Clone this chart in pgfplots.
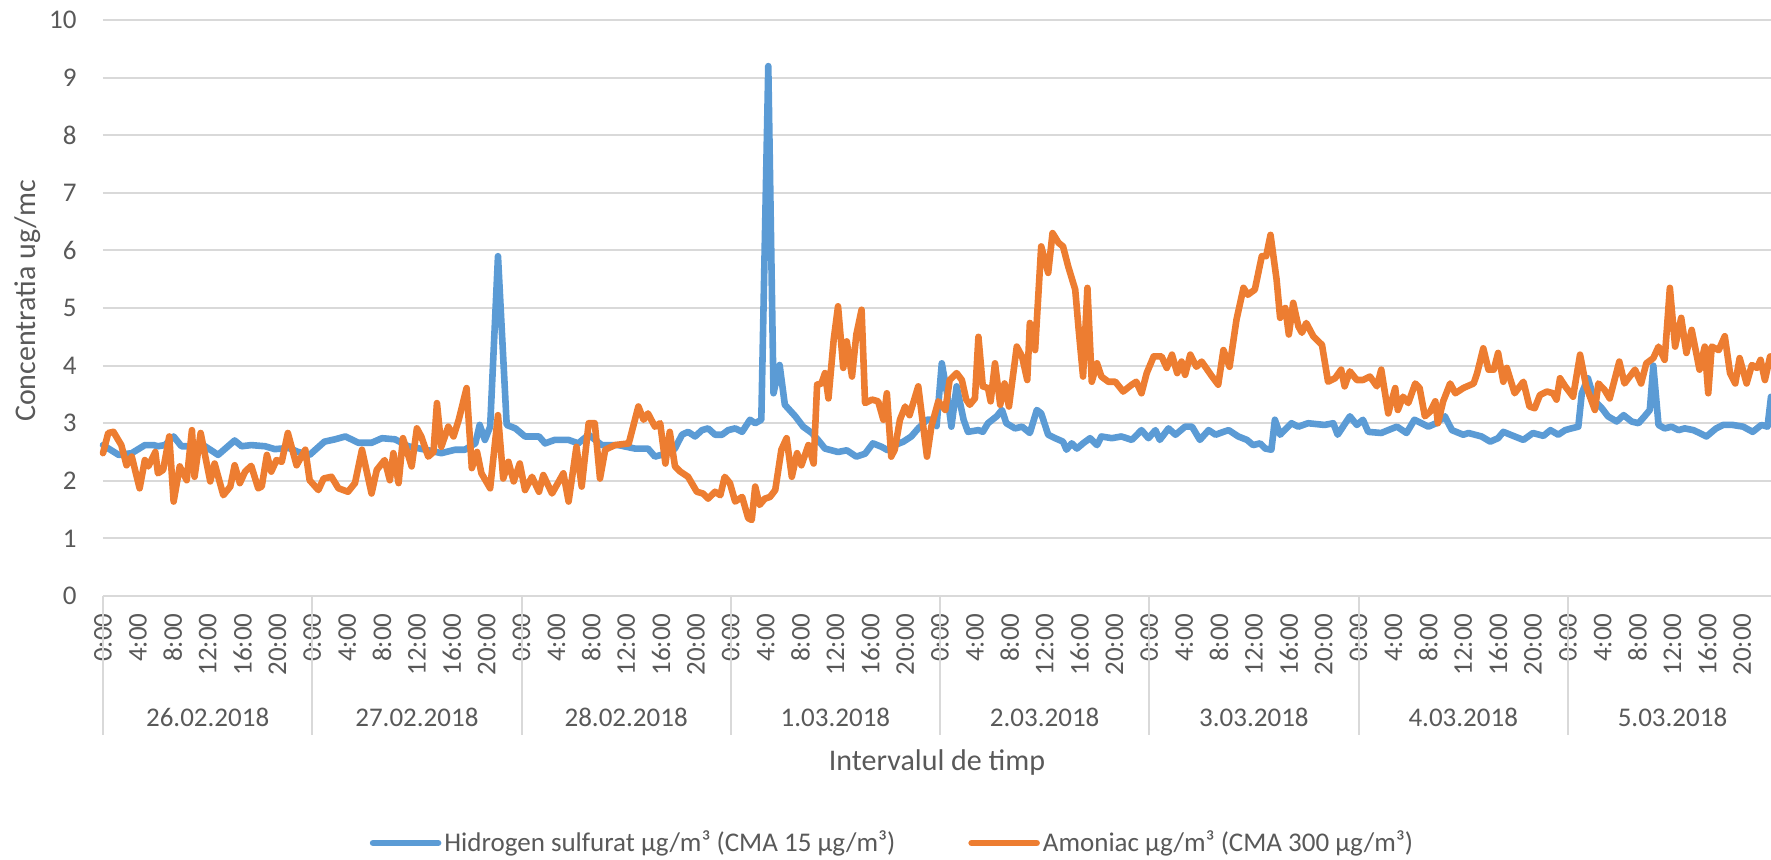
\documentclass[border=0pt]{standalone}
\usepackage{fontspec}
\setmainfont{Carlito}
\usepackage{pgfplots}
\pgfplotsset{compat=1.18}
\definecolor{h2s}{HTML}{5B9BD5}
\definecolor{nh3}{HTML}{ED7D31}
\definecolor{gridgray}{HTML}{D9D9D9}
\definecolor{txt}{HTML}{595959}
\begin{document}
\begin{tikzpicture}
\begin{axis}[
  at={(0,0)}, anchor=south west,
  scale only axis, width=834pt, height=288pt,
  xmin=0, xmax=191.3, ymin=0, ymax=10,
  clip=false,
  axis line style={draw=none},
  ytick={0,1,...,10},
  ymajorgrids, grid style={gridgray, line width=1pt},
  xtick={0,4,...,188},
  xticklabels={0:00,4:00,8:00,12:00,16:00,20:00,0:00,4:00,8:00,12:00,16:00,20:00,0:00,4:00,8:00,12:00,16:00,20:00,0:00,4:00,8:00,12:00,16:00,20:00,0:00,4:00,8:00,12:00,16:00,20:00,0:00,4:00,8:00,12:00,16:00,20:00,0:00,4:00,8:00,12:00,16:00,20:00,0:00,4:00,8:00,12:00,16:00,20:00},
  tick style={draw=none},
  major tick length=0pt,
  tick label style={font=\fontsize{13.5}{16}\selectfont, text=txt},
  /pgf/number format/assume math mode=true,
  yticklabel style={anchor=east, inner sep=0pt, xshift=-13pt},
  xticklabel style={yshift=-8.5pt, rotate=90, anchor=east, inner sep=0pt},
  xlabel={Intervalul de timp}, ylabel={Concentratia ug/mc},
  label style={font=\fontsize{15}{18}\selectfont, text=txt},
  xlabel style={at={(axis description cs:0.5,-0.2882)}, anchor=center},
  ylabel style={at={(axis description cs:-0.045,0.512)}, anchor=center},
  legend columns=2,
  legend cell align=left,
  legend style={at={(0.4736,-0.4288)}, anchor=center, draw=none, fill=none,
    font=\fontsize{13.5}{16}\selectfont, text=txt,
    nodes={inner sep=1.5pt},
    /tikz/every even column/.append style={column sep=35pt}},
  legend image code/.code={\draw[#1, line width=3.3pt, line cap=round] (0pt,0pt) -- (32.5pt,0pt);},
]
\addplot[h2s, line width=3.3pt, line join=round, line cap=round] coordinates {
(0,2.62)(1.8,2.45)(3.3,2.48)(4.8,2.62)(5.8,2.62)(6.3,2.6)(7.1,2.62)(8.1,2.77)(9.0,2.6)(10,2.6)(11.7,2.6)(13.2,2.45)(15.1,2.7)(15.9,2.6)(17,2.62)(18.6,2.6)(19.7,2.55)(21.3,2.57)(22.4,2.5)(23.7,2.45)(25.4,2.68)(26.6,2.72)(27.8,2.77)(29.3,2.66)(30.8,2.66)(32,2.74)(33.5,2.72)(35,2.6)(37,2.54)(38.8,2.48)(40.4,2.54)(41.5,2.54)(42.7,2.65)(43.2,2.97)(43.8,2.71)(44.4,2.94)(45.3,5.9)(46.3,2.97)(47.3,2.91)(48.4,2.77)(50,2.77)(50.7,2.65)(51.8,2.71)(53.4,2.71)(54.5,2.65)(55.7,2.8)(57.2,2.62)(59.1,2.62)(61,2.56)(62.5,2.56)(63.3,2.42)(64.5,2.47)(65.6,2.56)(66.4,2.8)(67.1,2.85)(67.9,2.77)(68.7,2.88)(69.4,2.91)(70.2,2.8)(71,2.8)(71.7,2.88)(72.5,2.91)(73.3,2.85)(74.2,3.06)(74.8,3.0)(75.5,3.06)(76.3,9.2)(76.9,3.52)(77.6,4.01)(78.2,3.32)(79.4,3.12)(80.3,2.94)(81.3,2.83)(82,2.71)(82.8,2.56)(84.3,2.5)(85.3,2.53)(86.4,2.42)(87.4,2.47)(88.3,2.65)(89.3,2.59)(90,2.53)(90.8,2.62)(91.8,2.68)(92.7,2.77)(93.5,2.91)(94.5,3.06)(95.2,3.06)(95.6,2.95)(96.2,4.04)(96.8,3.52)(97.3,2.94)(97.9,3.64)(98.7,3.06)(99.2,2.85)(100.4,2.88)(100.9,2.85)(101.5,3.0)(102.5,3.12)(103.1,3.23)(103.6,3.0)(104.6,2.91)(105.4,2.94)(106.3,2.83)(107.1,3.23)(107.6,3.17)(108.4,2.8)(109.2,2.74)(110.1,2.68)(110.5,2.54)(111.1,2.65)(111.7,2.56)(112.4,2.65)(113.2,2.74)(114,2.62)(114.5,2.77)(115.7,2.74)(116.8,2.77)(118,2.71)(119.1,2.88)(119.9,2.74)(120.7,2.88)(121.2,2.71)(122.2,2.91)(123,2.8)(124.1,2.94)(124.9,2.94)(125.8,2.71)(126.8,2.88)(127.6,2.8)(128.5,2.85)(129.1,2.88)(130.2,2.77)(131.2,2.71)(131.9,2.62)(132.7,2.65)(133.3,2.56)(134,2.54)(134.4,3.06)(135,2.8)(136.3,3.0)(137.1,2.94)(138.2,3.0)(140.1,2.97)(141.1,3.0)(141.6,2.8)(143,3.12)(143.8,2.97)(144.5,3.06)(145.1,2.85)(146.6,2.83)(147.4,2.88)(148.4,2.94)(149.5,2.83)(150.4,3.06)(152,2.94)(152.9,3.0)(153.9,3.12)(154.7,2.88)(156,2.8)(156.6,2.83)(158.1,2.77)(159.1,2.68)(160,2.74)(160.6,2.85)(161.9,2.77)(162.9,2.71)(164,2.83)(165.2,2.78)(166,2.88)(166.9,2.8)(167.7,2.88)(168.4,2.91)(169.2,2.94)(169.6,3.52)(170.3,3.78)(171.1,3.38)(171.9,3.26)(172.6,3.12)(173.6,3.03)(174.4,3.14)(175.3,3.03)(176.1,3.0)(176.8,3.12)(177.4,3.23)(177.8,4.0)(178.4,2.97)(179.1,2.91)(179.9,2.94)(180.7,2.88)(181.4,2.91)(182.4,2.88)(183.1,2.83)(183.9,2.77)(185,2.91)(185.8,2.97)(186.9,2.97)(188.1,2.94)(189.2,2.85)(190.2,2.97)(190.9,2.94)(191.3,3.46)
};
\addlegendentry{Hidrogen sulfurat µg/m³ (CMA 15 µg/m³)}
\addplot[nh3, line width=3.3pt, line join=round, line cap=round] coordinates {
(0,2.48)(0.6,2.83)(1.2,2.85)(2.1,2.62)(2.7,2.27)(3.3,2.42)(4.2,1.87)(4.8,2.36)(5.2,2.25)(6,2.5)(6.3,2.13)(6.9,2.19)(7.6,2.77)(8.1,1.64)(8.8,2.25)(9.6,2.01)(10.2,2.88)(10.5,2.07)(11.2,2.83)(12.3,1.99)(12.8,2.3)(13.8,1.75)(14.6,1.9)(15.1,2.27)(15.7,1.96)(16.3,2.16)(17,2.26)(17.8,1.87)(18.2,1.9)(18.8,2.45)(19.3,2.16)(19.9,2.36)(20.5,2.33)(21.2,2.83)(22.2,2.27)(23.2,2.54)(23.7,2.01)(24.7,1.84)(25.3,2.04)(26.2,2.07)(27,1.87)(28.1,1.81)(28.9,1.96)(29.7,2.54)(30.8,1.78)(31.4,2.19)(32.3,2.36)(32.9,2.01)(33.3,2.48)(33.9,1.96)(34.4,2.74)(35.4,2.25)(36,2.91)(36.5,2.77)(37.3,2.42)(37.9,2.5)(38.3,3.35)(38.8,2.59)(39.6,2.94)(40.2,2.77)(40.8,3.06)(41.7,3.61)(42.3,2.22)(42.9,2.5)(43.4,2.13)(44.4,1.87)(45.3,3.14)(45.9,2.04)(46.5,2.33)(47.1,1.99)(47.8,2.3)(48.4,1.84)(49.2,2.07)(50,1.81)(50.5,2.1)(51.5,1.78)(52.8,2.13)(53.4,1.64)(54.3,2.59)(54.9,1.9)(55.7,3.0)(56.4,3.0)(57,2.04)(57.6,2.54)(58.7,2.62)(60.3,2.65)(61.4,3.29)(62,3.06)(62.5,3.17)(63.3,2.94)(63.9,3.0)(64.5,2.3)(65.0,2.85)(65.6,2.25)(66.2,2.16)(67.1,2.07)(68.1,1.81)(68.8,1.78)(69.4,1.69)(70.2,1.81)(70.8,1.75)(71.3,2.07)(71.9,1.96)(72.5,1.64)(73.3,1.72)(74,1.35)(74.4,1.32)(74.8,1.9)(75.3,1.58)(75.9,1.69)(76.5,1.72)(77.1,1.84)(77.8,2.54)(78.4,2.74)(79,2.07)(79.6,2.48)(80.1,2.27)(80.9,2.62)(81.5,2.3)(81.9,3.67)(82.4,3.69)(82.8,3.87)(83.2,3.43)(83.8,4.45)(84.3,5.03)(84.9,3.96)(85.3,4.42)(85.9,3.81)(86.4,4.54)(87,4.97)(87.4,3.35)(88.2,3.41)(88.9,3.38)(89.5,3.06)(89.9,3.52)(90.4,2.42)(90.8,2.54)(91.4,3.06)(92,3.29)(92.5,3.14)(93.5,3.64)(94.5,2.42)(95,2.94)(95.8,3.38)(96.6,3.23)(97.1,3.75)(97.9,3.87)(98.5,3.75)(99,3.41)(99.4,3.32)(100,3.43)(100.4,4.5)(100.9,3.64)(101.5,3.61)(101.8,3.38)(102.3,4.04)(102.9,3.32)(103.4,3.69)(103.9,3.29)(104.8,4.33)(105.4,4.16)(106,3.75)(106.3,4.74)(106.9,4.27)(107.6,6.07)(108.4,5.61)(108.9,6.3)(109.6,6.13)(110.1,6.07)(110.7,5.72)(111.5,5.32)(111.9,4.62)(112.4,3.81)(112.9,5.35)(113.4,3.72)(114,4.04)(114.5,3.81)(115.3,3.72)(116.1,3.72)(117,3.55)(118,3.67)(118.5,3.72)(119.1,3.52)(119.7,3.87)(120.5,4.16)(121.4,4.16)(122,3.96)(122.6,4.19)(123.2,3.87)(123.7,4.07)(124.1,3.84)(124.7,4.19)(125.4,3.98)(126,4.07)(127.2,3.81)(127.9,3.67)(128.5,4.27)(129.2,3.98)(130,4.8)(130.8,5.35)(131.3,5.23)(132.1,5.32)(132.9,5.9)(133.4,5.9)(133.9,6.27)(134.6,5.49)(135,4.83)(135.6,5.0)(136,4.54)(136.5,5.09)(137.1,4.68)(137.5,4.57)(138,4.74)(138.8,4.51)(139.8,4.36)(140.5,3.72)(141.3,3.78)(142,3.93)(142.4,3.64)(143,3.9)(143.8,3.75)(144.5,3.75)(145.3,3.81)(146.1,3.64)(146.6,3.93)(147.4,3.17)(148.2,3.61)(148.5,3.23)(149.1,3.46)(149.7,3.35)(150.5,3.69)(151,3.61)(151.6,3.12)(152.2,3.2)(152.8,3.38)(153.1,3.0)(153.7,3.38)(154.5,3.69)(155.1,3.52)(156,3.61)(157.2,3.69)(157.6,3.87)(158.3,4.3)(158.9,3.93)(159.5,3.93)(160,4.22)(160.6,3.72)(161,3.96)(161.9,3.52)(162.9,3.72)(163.6,3.29)(164.2,3.26)(164.8,3.49)(165.6,3.55)(166.3,3.52)(166.7,3.41)(167.1,3.78)(167.7,3.64)(168.6,3.46)(169.4,4.19)(170.1,3.64)(171.1,3.23)(171.5,3.69)(172.2,3.58)(172.8,3.43)(173.9,4.07)(174.5,3.69)(175.1,3.81)(175.7,3.93)(176.4,3.69)(177,4.04)(177.8,4.13)(178.4,4.33)(179.1,4.1)(179.7,5.35)(180.3,4.33)(181,4.83)(181.6,4.22)(182.2,4.62)(183.1,3.93)(183.7,4.33)(184.1,3.52)(184.5,4.33)(185.3,4.27)(186,4.51)(186.6,3.87)(187.2,3.69)(187.7,4.13)(188.5,3.69)(189.1,4.01)(189.7,3.96)(190.1,4.1)(190.6,3.75)(191.2,4.16)
};
\addlegendentry{Amoniac µg/m³ (CMA 300 µg/m³)}
\pgfplotsinvokeforeach{0,24,48,72,96,120,144,168}{
  \draw[gridgray, line width=1pt] (axis cs:#1,0) -- ++(0pt,-69.5pt);
}
\begin{scope}[every node/.style={font=\fontsize{13.5}{16}\selectfont, text=txt, anchor=center}]
\node at ([yshift=-60.5pt]axis cs:12,0) {26.02.2018};
\node at ([yshift=-60.5pt]axis cs:36,0) {27.02.2018};
\node at ([yshift=-60.5pt]axis cs:60,0) {28.02.2018};
\node at ([yshift=-60.5pt]axis cs:84,0) {1.03.2018};
\node at ([yshift=-60.5pt]axis cs:108,0) {2.03.2018};
\node at ([yshift=-60.5pt]axis cs:132,0) {3.03.2018};
\node at ([yshift=-60.5pt]axis cs:156,0) {4.03.2018};
\node at ([yshift=-60.5pt]axis cs:180,0) {5.03.2018};
\end{scope}
\end{axis}
\pgfresetboundingbox
\path[use as bounding box] (-51.5pt,-131.5pt) rectangle (834pt,298pt);
\end{tikzpicture}
\end{document}
